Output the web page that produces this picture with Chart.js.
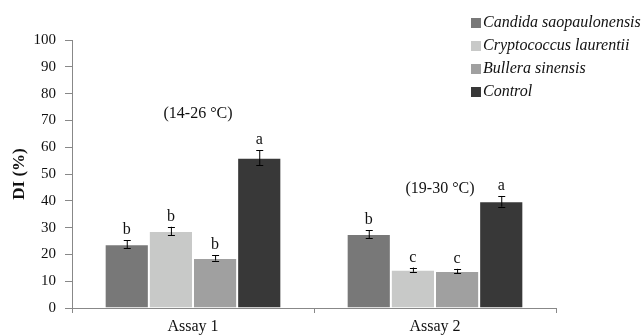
<!DOCTYPE html>
<html><head><meta charset="utf-8">
<script src="https://cdn.jsdelivr.net/npm/chart.js@4"></script>
<style>html,body{margin:0;padding:0;background:#fff}#wrap{width:644px;height:335px}</style>
</head><body><div id="wrap"><canvas id="c" width="644" height="335"></canvas></div>
<script>
const categories = ["Assay 1", "Assay 2"];
const seriesNames = ["Candida saopaulonensis", "Cryptococcus laurentii", "Bullera sinensis", "Control"];
const candida = [23.8, 27.6];
const crypto = [28.7, 14.3];
const bullera = [18.7, 13.8];
const control = [56.1, 39.8];
const candidaErr = [1.5, 1.5];
const cryptoErr = [1.6, 0.8];
const bulleraErr = [1.0, 0.8];
const controlErr = [2.8, 2.0];
const candidaLetters = ["b", "b"];
const cryptoLetters = ["b", "c"];
const bulleraLetters = ["b", "c"];
const controlLetters = ["a", "a"];
const tempLabels = ["(14-26 °C)", "(19-30 °C)"];
const tempLabelY = [71, 43];
const yTicks = [0, 10, 20, 30, 40, 50, 60, 70, 80, 90, 100];
const colors = ["#787878", "#c8c9c8", "#a0a0a0", "#383838"];

const values = [candida, crypto, bullera, control];
const errs = [candidaErr, cryptoErr, bulleraErr, controlErr];
const letters = [candidaLetters, cryptoLetters, bulleraLetters, controlLetters];
const serif = "'Liberation Serif','DejaVu Serif',serif";

const extras = {
  id: 'extras',
  afterDatasetsDraw(chart) {
    const ctx = chart.ctx;
    const y = chart.scales.y;
    const x = chart.scales.x;
    ctx.save();
    chart.data.datasets.forEach((ds, di) => {
      const meta = chart.getDatasetMeta(di);
      meta.data.forEach((bar, i) => {
        const v = ds.data[i], e = errs[di][i];
        const yt = y.getPixelForValue(v + e), yb = y.getPixelForValue(v - e);
        ctx.strokeStyle = '#000'; ctx.lineWidth = 1;
        ctx.beginPath();
        ctx.moveTo(bar.x + 0.5, yt); ctx.lineTo(bar.x + 0.5, yb);
        ctx.moveTo(bar.x - 3, Math.round(yt) + 0.5); ctx.lineTo(bar.x + 4, Math.round(yt) + 0.5);
        ctx.moveTo(bar.x - 3, Math.round(yb) + 0.5); ctx.lineTo(bar.x + 4, Math.round(yb) + 0.5);
        ctx.stroke();
        ctx.fillStyle = '#111';
        ctx.font = "16px " + serif;
        ctx.textAlign = 'center'; ctx.textBaseline = 'alphabetic';
        ctx.fillText(letters[di][i], bar.x, yt - 6);
      });
    });
    ctx.font = "16px " + serif;
    ctx.fillStyle = '#111';
    ctx.textAlign = 'center';
    tempLabels.forEach((t, i) => {
      ctx.fillText(t, x.getPixelForValue(i) + 5, y.getPixelForValue(tempLabelY[i]));
    });
    // legend
    ctx.textAlign = 'left'; ctx.textBaseline = 'middle';
    ctx.font = "italic 16px " + serif;
    seriesNames.forEach((n, i) => {
      const ly = 23 + i * 23;
      ctx.fillStyle = colors[i];
      ctx.fillRect(471, ly - 5, 10, 10);
      ctx.fillStyle = '#111';
      ctx.fillText(n, 483, ly);
    });
    ctx.restore();
  }
};

new Chart(document.getElementById('c'), {
  type: 'bar',
  data: {
    labels: categories,
    datasets: seriesNames.map((n, i) => ({
      label: n, data: values[i], backgroundColor: colors[i],
      borderColor: 'rgba(255,255,255,0.35)', borderWidth: 1,
      categoryPercentage: 0.73, barPercentage: 1.0
    }))
  },
  options: {
    responsive: false, animation: false,
    layout: { padding: { top: 40, right: 88, left: 0, bottom: 0 } },
    plugins: { legend: { display: false }, tooltip: { enabled: false } },
    scales: {
      x: {
        grid: { display: true, drawOnChartArea: false, drawTicks: true, tickLength: 5, color: '#888', offset: true },
        border: { display: true, color: '#888', width: 1 },
        ticks: { color: '#111', font: { family: serif, size: 16 }, padding: 4 },
        afterFit(s) { s.height = 27; }
      },
      y: {
        min: 0, max: 100,
        afterBuildTicks(s) { s.ticks = yTicks.map(v => ({ value: v })); },
        grid: { display: true, drawOnChartArea: false, drawTicks: true, tickLength: 7, color: '#888' },
        border: { display: true, color: '#888', width: 1 },
        ticks: { color: '#111', font: { family: serif, size: 15 }, padding: 9 },
        title: { display: true, text: 'DI (%)', color: '#111', font: { family: serif, size: 17, weight: 'bold' }, padding: { top: 9, bottom: 0 } },
        afterFit(s) { s.width = 72; }
      }
    }
  },
  plugins: [extras]
});
</script></body></html>
